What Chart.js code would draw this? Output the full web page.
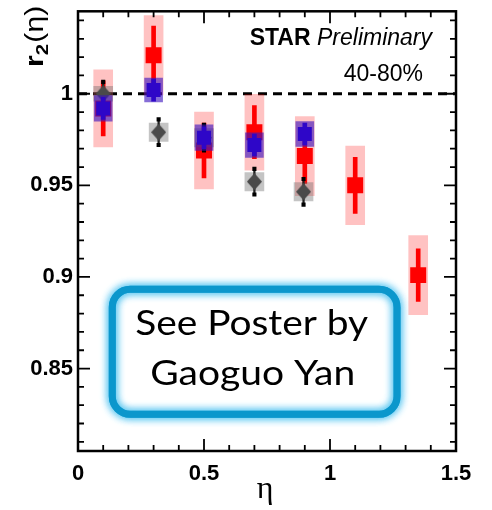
<!DOCTYPE html>
<html>
<head>
<meta charset="utf-8">
<script src="https://cdn.jsdelivr.net/npm/chart.js@4/dist/chart.umd.min.js"></script>
<style>
  html, body { margin: 0; padding: 0; background: #fff; }
  #c { display: block; }
</style>
</head>
<body>
<canvas id="c" width="492" height="510" style="width:492px;height:510px"></canvas>
<script>
// r2(eta) for 40-80% centrality
// red squares
const etaRed  = [0.1, 0.3, 0.5, 0.7, 0.9, 1.1, 1.35];
const r2Red   = [0.992, 1.021, 0.969, 0.979, 0.966, 0.950, 0.901];
const statRed = [0.015, 0.016, 0.015, 0.0145, 0.015, 0.0153, 0.0144];
const sysRed  = [0.021, 0.0216, 0.021, 0.0207, 0.0216, 0.0215, 0.0216];
// blue squares
const etaBlue  = [0.1, 0.3, 0.5, 0.7, 0.9];
const r2Blue   = [0.992, 1.002, 0.976, 0.972, 0.978];
const statBlue = [0.006, 0.006, 0.006, 0.006, 0.006];
const sysBlue  = [0.007, 0.0065, 0.007, 0.0067, 0.0068];
// grey diamonds
const etaGrey  = [0.1, 0.32, 0.5, 0.7, 0.895];
const r2Grey   = [1.000, 0.979, 0.976, 0.952, 0.9465];
const statGrey = [0.0065, 0.007, 0.007, 0.007, 0.007];
const sysGrey  = [0.004, 0.005, 0.005, 0.005, 0.005];
// axes
const xTickLabels = [0, 0.5, 1, 1.5];
const yTickLabels = [0.85, 0.9, 0.95, 1];
const xRange = [0, 1.5];
const yRange = [0.805, 1.045];
const unityLine = 1;

const points = (xs, ys) => xs.map((x, i) => ({ x, y: ys[i] }));
const spans = (xs, ys, es) => xs.map((x, i) => ({ x, y: [ys[i] - es[i], ys[i] + es[i]] }));

function diamond(w, h, color) {
  const c = document.createElement('canvas');
  c.width = w; c.height = h;
  const g = c.getContext('2d');
  g.fillStyle = color;
  g.beginPath();
  g.moveTo(w / 2, 0); g.lineTo(w, h / 2); g.lineTo(w / 2, h); g.lineTo(0, h / 2);
  g.closePath(); g.fill();
  return c;
}

const RED = '#ff0000', BLUE = '#2e06c8';

const datasets = [
  { type: 'line', data: [{ x: xRange[0], y: unityLine }, { x: xRange[1], y: unityLine }],
    borderColor: '#000', borderWidth: 3, borderDash: [9, 6], pointRadius: 0, order: 20 },

  { type: 'bar', data: spans(etaRed, r2Red, sysRed), backgroundColor: 'rgba(255,0,0,0.24)',
    barThickness: 19, grouped: false, borderWidth: 0, order: 19 },
  { type: 'bar', data: spans(etaRed, r2Red, statRed), backgroundColor: RED,
    barThickness: 4, grouped: false, borderWidth: 0, order: 18 },
  { type: 'scatter', data: points(etaRed, r2Red), pointStyle: 'rect', pointRadius: 11.3,
    backgroundColor: RED, borderWidth: 0, order: 17 },

  { type: 'bar', data: spans(etaGrey, r2Grey, sysGrey), backgroundColor: 'rgba(100,100,100,0.38)',
    barThickness: 19, grouped: false, borderWidth: 0, order: 16 },
  { type: 'bar', data: spans(etaGrey, r2Grey, statGrey), backgroundColor: '#222',
    barThickness: 1.6, grouped: false, borderWidth: 0, order: 15 },
  { type: 'scatter', data: points(etaGrey, r2Grey.map((v, i) => v + statGrey[i]))
      .concat(points(etaGrey, r2Grey.map((v, i) => v - statGrey[i]))),
    pointStyle: 'rect', pointRadius: 2.9, backgroundColor: '#000', borderWidth: 0, order: 14 },
  { type: 'scatter', data: points(etaGrey, r2Grey), pointStyle: diamond(15, 17, '#4a4a4a'),
    pointRadius: 8, order: 13 },

  { type: 'bar', data: spans(etaBlue, r2Blue, sysBlue), backgroundColor: 'rgba(60,20,190,0.62)',
    barThickness: 18, grouped: false, borderWidth: 0, order: 12 },
  { type: 'bar', data: spans(etaBlue, r2Blue, statBlue), backgroundColor: BLUE,
    barThickness: 4, grouped: false, borderWidth: 0, order: 11 },
  { type: 'scatter', data: points(etaBlue, r2Blue), pointStyle: 'rect', pointRadius: 9.9,
    backgroundColor: BLUE, borderWidth: 0, order: 10 }
];

// closed frame with inward major/minor ticks on all four sides
const axisFrame = {
  id: 'axisFrame',
  afterDatasetsDraw(chart) {
    const { ctx, chartArea: a, scales: { x, y } } = chart;
    ctx.save();
    ctx.strokeStyle = '#000';
    ctx.lineWidth = 1.8;
    ctx.beginPath();
    for (let i = 0; i <= 15; i++) {
      const px = x.getPixelForValue(i / 10);
      const len = i % 5 === 0 ? 12 : 6;
      ctx.moveTo(px, a.bottom); ctx.lineTo(px, a.bottom - len);
      ctx.moveTo(px, a.top); ctx.lineTo(px, a.top + len);
    }
    for (let k = 81; k <= 104; k++) {
      const py = y.getPixelForValue(k / 100);
      const len = k % 5 === 0 ? 12 : 6;
      ctx.moveTo(a.left, py); ctx.lineTo(a.left + len, py);
      ctx.moveTo(a.right, py); ctx.lineTo(a.right - len, py);
    }
    ctx.stroke();
    ctx.lineWidth = 2.5;
    ctx.strokeRect(a.left, a.top, a.right - a.left, a.bottom - a.top);
    ctx.restore();
  }
};

// axis titles, labels and the poster note
const annotations = {
  id: 'annotations',
  afterDraw(chart) {
    const { ctx, chartArea: a, scales: { x, y } } = chart;
    ctx.save();
    ctx.fillStyle = '#000';

    // STAR Preliminary
    ctx.textBaseline = 'alphabetic';
    ctx.font = 'italic 23px "Liberation Sans", Arial, sans-serif';
    const wPre = ctx.measureText('Preliminary').width;
    ctx.font = 'bold 23px "Liberation Sans", Arial, sans-serif';
    const wStar = ctx.measureText('STAR ').width;
    const rightEdge = a.right - 24;
    ctx.textAlign = 'left';
    ctx.fillText('STAR ', rightEdge - wPre - wStar, 45);
    ctx.font = 'italic 23px "Liberation Sans", Arial, sans-serif';
    ctx.fillText('Preliminary', rightEdge - wPre, 45);

    ctx.font = '23px "Liberation Sans", Arial, sans-serif';
    ctx.textAlign = 'right';
    ctx.fillText('40-80%', a.right - 33, 81);

    // x title
    ctx.textAlign = 'center';
    ctx.font = '32px "Liberation Serif", serif';
    ctx.fillText('η', (a.left + a.right) / 2 - 2, 498);

    // y title r2(eta), rotated
    ctx.save();
    ctx.translate(43, 67);
    ctx.rotate(-Math.PI / 2);
    ctx.textAlign = 'left';
    const fR = 'bold 25px "Liberation Sans", Arial, sans-serif';
    const fS = 'bold 17px "Liberation Sans", Arial, sans-serif';
    const fP = '25px "Liberation Sans", Arial, sans-serif';
    ctx.font = fR; const w1 = ctx.measureText('r').width;
    ctx.font = fS; const w2 = ctx.measureText('2').width;
    ctx.font = fP; const w3 = ctx.measureText('(η)').width;
    const sc = 60 / (w1 + w2 + w3);
    ctx.scale(sc, 1);
    ctx.font = fR; ctx.fillText('r', 0, 0);
    ctx.font = fS; ctx.fillText('2', w1, 5);
    ctx.font = fP; ctx.fillText('(η)', w1 + w2 + 1, 0);
    ctx.restore();

    // poster note box
    const l = x.getPixelForValue(0.136), r = x.getPixelForValue(1.266);
    const t = y.getPixelForValue(0.8933), b = y.getPixelForValue(0.825);
    ctx.beginPath();
    ctx.roundRect(l, t, r - l, b - t, 18);
    ctx.fillStyle = '#fff';
    ctx.fill();
    ctx.shadowColor = 'rgba(80,195,240,1)';
    ctx.shadowBlur = 9;
    ctx.strokeStyle = '#0b97cc';
    ctx.lineWidth = 7;
    ctx.stroke();
    ctx.stroke();
    ctx.shadowBlur = 0;
    ctx.shadowColor = 'transparent';

    ctx.fillStyle = '#000';
    ctx.textAlign = 'center';
    const line = (txt, cx, base, target) => {
      ctx.font = '35px Lato, "Open Sans", sans-serif';
      const w = ctx.measureText(txt).width;
      ctx.save();
      ctx.translate(cx, base);
      ctx.scale(target / w, 1);
      ctx.fillText(txt, 0, 0);
      ctx.restore();
    };
    const cx = (l + r) / 2;
    line('See Poster by', cx - 3, 335, 233);
    line('Gaoguo Yan', cx - 2, 385, 205);
    ctx.restore();
  }
};

const tickFont = { family: '"Liberation Sans", Arial, sans-serif', size: 22, weight: 'bold' };

new Chart(document.getElementById('c'), {
  type: 'bar',
  data: { datasets },
  options: {
    responsive: false,
    animation: false,
    events: [],
    layout: { padding: { top: 8, right: 36, left: 0, bottom: 0 } },
    plugins: { legend: { display: false }, tooltip: { enabled: false } },
    scales: {
      x: {
        type: 'linear', min: xRange[0], max: xRange[1], offset: false,
        grid: { display: false, drawTicks: false }, border: { display: false },
        afterBuildTicks: s => { s.ticks = xTickLabels.map(v => ({ value: v })); },
        afterFit: s => { s.height = 59; s.paddingLeft = 0; s.paddingRight = 0; },
        ticks: { font: tickFont, color: '#000', padding: 10, maxRotation: 0, autoSkip: false,
                 callback: v => String(v) }
      },
      y: {
        type: 'linear', min: yRange[0], max: yRange[1],
        grid: { display: false, drawTicks: false }, border: { display: false },
        afterBuildTicks: s => { s.ticks = yTickLabels.map(v => ({ value: v })); },
        afterFit: s => { s.width = 78; s.paddingTop = 0; s.paddingBottom = 0; },
        ticks: { font: tickFont, color: '#000', padding: 5, autoSkip: false,
                 callback: v => String(v) }
      }
    }
  },
  plugins: [axisFrame, annotations]
});
</script>
</body>
</html>
